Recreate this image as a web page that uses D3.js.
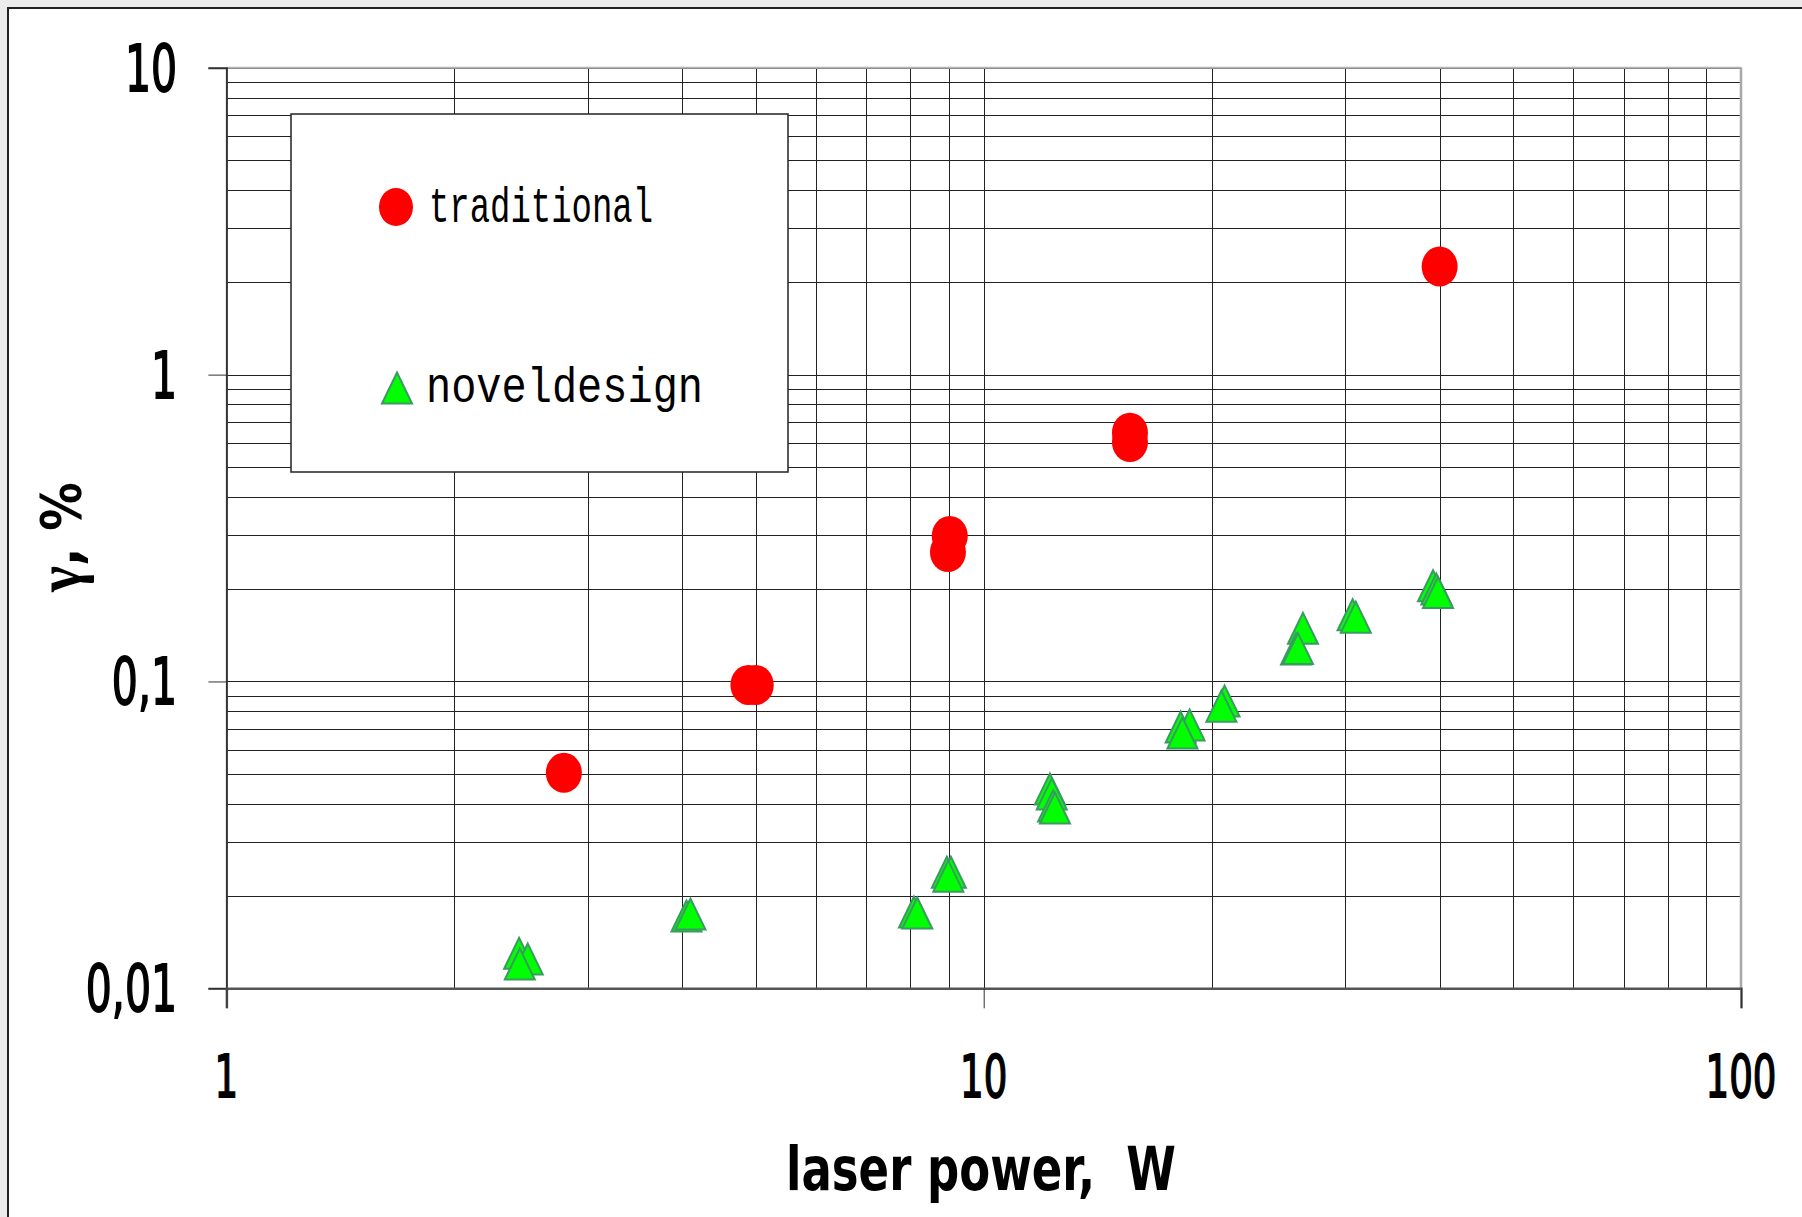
<!DOCTYPE html>
<html>
<head>
<meta charset="utf-8">
<script src="https://cdn.jsdelivr.net/npm/d3@7"></script>
<style>
  html, body { margin: 0; padding: 0; background: #ececec; }
  svg { display: block; }
  text { white-space: pre; }
</style>
</head>
<body>
<svg id="chart" width="1802" height="1217"></svg>
<script>
// traditional design: laser power (W) vs gamma (%)
var tradPower = [2.79, 4.89, 5.0, 9.02, 8.97, 15.6, 15.6, 40];
var tradGamma = [0.0504, 0.0974, 0.0974, 0.298, 0.264, 0.647, 0.603, 2.25];

// novel design
var novelPower = [2.435, 2.50, 2.44, 4.05, 4.10, 8.09, 8.17, 8.94, 9.05, 8.98,
                  12.23, 12.30, 12.35, 12.42, 18.2, 18.7, 18.3, 20.8, 20.6,
                  26.4, 25.85, 26.0, 30.7, 31.0, 39.2, 39.6, 39.8];
var novelGamma = [0.0130, 0.01245, 0.0120, 0.0172, 0.01745, 0.01772, 0.01759, 0.0239, 0.0239, 0.0232,
                  0.0446, 0.0430, 0.0393, 0.0387, 0.0710, 0.0721, 0.0679, 0.0863, 0.0831,
                  0.149, 0.1275, 0.128, 0.165, 0.162, 0.205, 0.200, 0.195];

var xTickValues = [1, 10, 100];
var xTickLabels = ["1", "10", "100"];
var yTickValues = [0.01, 0.1, 1, 10];
var yTickLabels = ["0,01", "0,1", "1", "10"];

var seriesNames = ["traditional", "noveldesign"];

var svg = d3.select("#chart");

var plotLeft = 226.4, plotRight = 1741, plotTop = 67.8, plotBottom = 988.3;

var x = d3.scaleLog().domain([1, 100]).range([plotLeft, plotRight]);
var y = d3.scaleLog().domain([0.01, 10]).range([plotBottom, plotTop]);

// snap to pixel for crisp 1px lines
function crisp(v) { return Math.round(v) + 0.5; }

// outer frame
svg.append("rect")
    .attr("x", 8).attr("y", 8)
    .attr("width", 1830).attr("height", 1240)
    .attr("fill", "#ffffff")
    .attr("stroke", "#222").attr("stroke-width", 2);

// grid
var grid = svg.append("g").attr("class", "grid");
grid.selectAll("line.v")
    .data(x.ticks())
    .enter().append("line")
    .attr("class", "v")
    .attr("x1", function(d) { return crisp(x(d)); })
    .attr("x2", function(d) { return crisp(x(d)); })
    .attr("y1", plotTop).attr("y2", plotBottom)
    .attr("stroke", "#222").attr("stroke-width", 1);

grid.selectAll("line.h")
    .data(y.ticks())
    .enter().append("line")
    .attr("class", "h")
    .attr("y1", function(d) { return crisp(y(d)); })
    .attr("y2", function(d) { return crisp(y(d)); })
    .attr("x1", plotLeft).attr("x2", plotRight)
    .attr("stroke", "#222").attr("stroke-width", 1);

// plot border: top and right light, left and bottom dark
svg.append("line").attr("x1", plotLeft).attr("x2", plotRight).attr("y1", plotTop).attr("y2", plotTop)
    .attr("stroke", "#b4b4b4").attr("stroke-width", 2);
svg.append("line").attr("x1", plotRight).attr("x2", plotRight).attr("y1", plotTop).attr("y2", plotBottom)
    .attr("stroke", "#a8a8a8").attr("stroke-width", 2.5);

// axes with major ticks only
var yAxis = d3.axisLeft(y).tickValues(yTickValues).tickSize(18).tickFormat("");
var xAxis = d3.axisBottom(x).tickValues(xTickValues).tickSize(20).tickFormat("");

var yAxisG = svg.append("g").attr("transform", "translate(" + plotLeft + ",0)").call(yAxis);
var xAxisG = svg.append("g").attr("transform", "translate(0," + plotBottom + ")").call(xAxis);
yAxisG.select(".domain").attr("stroke", "#333").attr("stroke-width", 2);
xAxisG.select(".domain").attr("stroke", "#555").attr("stroke-width", 2.5);
svg.selectAll(".tick line").attr("stroke", "#333").attr("stroke-width", 1);

// tick labels (condensed)
svg.append("g").selectAll("text")
    .data(yTickValues)
    .enter().append("text")
    .attr("transform", function(d) { return "translate(177," + (y(d) + 23) + ") scale(0.64,1)"; })
    .attr("text-anchor", "end")
    .attr("font-family", "DejaVu Sans")
    .attr("font-size", 64)
    .attr("fill", "#000")
    .attr("stroke", "#000").attr("stroke-width", 1.8)
    .text(function(d, i) { return yTickLabels[i]; });

svg.append("g").selectAll("text")
    .data(xTickValues)
    .enter().append("text")
    .attr("transform", function(d) { return "translate(" + x(d) + ",1097) scale(0.64,1)"; })
    .attr("text-anchor", "middle")
    .attr("font-family", "DejaVu Sans")
    .attr("font-size", 58)
    .attr("fill", "#000")
    .attr("stroke", "#000").attr("stroke-width", 1.8)
    .text(function(d, i) { return xTickLabels[i]; });

// axis titles
svg.append("text")
    .attr("x", 981).attr("y", 1190)
    .attr("text-anchor", "middle")
    .attr("font-family", "DejaVu Sans")
    .attr("font-weight", "bold")
    .attr("font-size", 60)
    .attr("textLength", 390)
    .attr("lengthAdjust", "spacingAndGlyphs")
    .text("laser power,  W");

var yTitle = svg.append("text")
    .attr("transform", "translate(80,537) rotate(-90)")
    .attr("text-anchor", "middle")
    .attr("font-family", "DejaVu Sans")
    .attr("font-weight", "bold")
    .attr("font-size", 56)
    .attr("textLength", 110)
    .attr("lengthAdjust", "spacingAndGlyphs");
yTitle.append("tspan").attr("font-family", "Liberation Serif").attr("font-size", 64).text("γ");
yTitle.append("tspan").text(", %");

// legend
var legend = svg.append("g");
legend.append("rect")
    .attr("x", 291).attr("y", 114)
    .attr("width", 497).attr("height", 358)
    .attr("fill", "#fff")
    .attr("stroke", "#222").attr("stroke-width", 1.5);

var triPath = "M0,-15.5L15,15.5L-15,15.5Z";

legend.append("ellipse")
    .attr("cx", 396).attr("cy", 207)
    .attr("rx", 17).attr("ry", 19)
    .attr("fill", "#ff0000");
legend.append("path")
    .attr("d", triPath)
    .attr("transform", "translate(397,388)")
    .attr("fill", "#00ff00")
    .attr("stroke", "#3a9a62").attr("stroke-width", 2);

legend.append("text")
    .attr("x", 429).attr("y", 222)
    .attr("font-family", "Liberation Mono")
    .attr("font-size", 50)
    .attr("textLength", 224)
    .attr("lengthAdjust", "spacingAndGlyphs")
    .text(seriesNames[0]);
legend.append("text")
    .attr("x", 426).attr("y", 402)
    .attr("font-family", "Liberation Mono")
    .attr("font-size", 50)
    .attr("textLength", 277)
    .attr("lengthAdjust", "spacingAndGlyphs")
    .text(seriesNames[1]);

// data marks
var trad = tradPower.map(function(p, i) { return { p: p, g: tradGamma[i] }; });
var novel = novelPower.map(function(p, i) { return { p: p, g: novelGamma[i] }; });

svg.append("g").selectAll("ellipse")
    .data(trad)
    .enter().append("ellipse")
    .attr("cx", function(d) { return x(d.p); })
    .attr("cy", function(d) { return y(d.g); })
    .attr("rx", 18).attr("ry", 20)
    .attr("fill", "#ff0000");

svg.append("g").selectAll("path")
    .data(novel)
    .enter().append("path")
    .attr("d", triPath)
    .attr("transform", function(d) { return "translate(" + x(d.p) + "," + y(d.g) + ")"; })
    .attr("fill", "#00ff00")
    .attr("stroke", "#3a9a62").attr("stroke-width", 2);
</script>
</body>
</html>
